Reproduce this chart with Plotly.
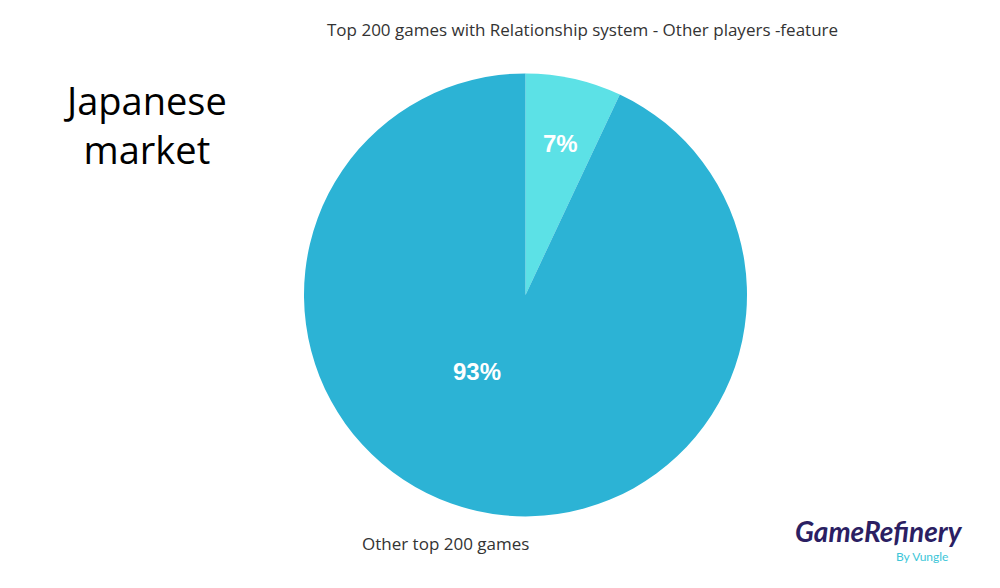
import math
import plotly.graph_objects as go

labels = ["Top 200 games with Relationship system - Other players -feature", "Other top 200 games"]
values = [7, 93]
colors = ["#5CE1E6", "#2CB3D5"]
# label placement inside the pie: (angle clockwise from 12 o'clock in degrees, fraction of radius)
label_place = [(13.0, 0.70), (212.5, 0.41)]

W, H = 1000, 588
dom_x = [0.304, 0.747]
dom_y = [0.121, 0.876]

fig = go.Figure(go.Pie(
    labels=labels, values=values, sort=False, direction="clockwise", rotation=0,
    marker=dict(colors=colors, line=dict(width=0)),
    textinfo="none",
    domain=dict(x=dom_x, y=dom_y),
    showlegend=False, hoverinfo="label+percent",
))

cx = (dom_x[0] + dom_x[1]) / 2
cy = (dom_y[0] + dom_y[1]) / 2
R = min((dom_x[1] - dom_x[0]) * W, (dom_y[1] - dom_y[0]) * H) / 2
total = sum(values)
for v, (ang, frac) in zip(values, label_place):
    a = math.radians(ang)
    fig.add_annotation(x=cx + frac * R * math.sin(a) / W, y=cy + frac * R * math.cos(a) / H,
                       xref="paper", yref="paper", xanchor="center", yanchor="middle",
                       text=f"<b>{round(100 * v / total)}%</b>", showarrow=False,
                       font=dict(family="Liberation Sans, Arial", size=24, color="white"))

fig.add_annotation(x=0.582, y=1 - 30/588, xref="paper", yref="paper", xanchor="center", yanchor="middle",
                   text=labels[0], showarrow=False,
                   font=dict(family="Open Sans", size=17, color="#333333"))
fig.add_annotation(x=0.4455, y=1 - 543/588, xref="paper", yref="paper", xanchor="center", yanchor="middle",
                   text=labels[1], showarrow=False,
                   font=dict(family="Open Sans", size=17, color="#333333"))
fig.add_annotation(x=0.145, y=1 - 124/588, xref="paper", yref="paper", xanchor="center", yanchor="middle",
                   text="Japanese<br>market", showarrow=False, align="center",
                   font=dict(family="Open Sans", size=38, color="#000000"))
fig.add_annotation(x=0.879, y=1 - 531/588, xref="paper", yref="paper", xanchor="center", yanchor="middle",
                   text="<b><i>GameRefinery</i></b>", showarrow=False,
                   font=dict(family="Lato", size=28, color="#2B1F63"))
fig.add_annotation(x=0.922, y=1 - 556/588, xref="paper", yref="paper", xanchor="center", yanchor="middle",
                   text="By Vungle", showarrow=False,
                   font=dict(family="Lato", size=12, color="#3DC6D8"))

fig.update_layout(width=W, height=H, margin=dict(l=0, r=0, t=0, b=0),
                  paper_bgcolor="white", plot_bgcolor="white")
fig.write_html("out.html")
